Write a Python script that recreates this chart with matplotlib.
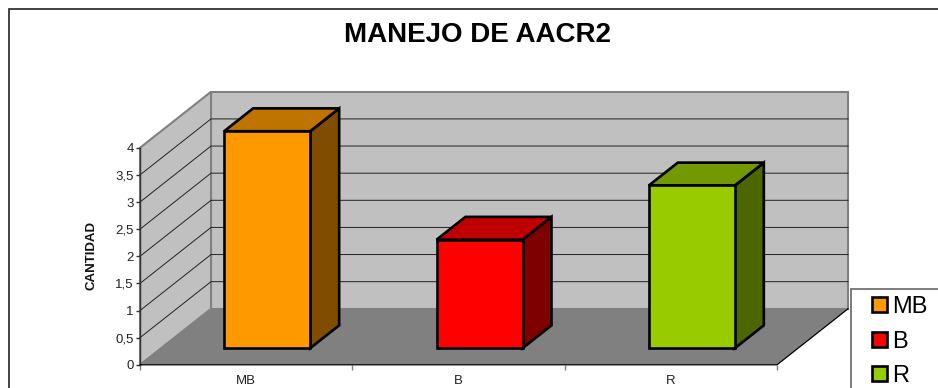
import matplotlib
matplotlib.use('Agg')
import matplotlib.pyplot as plt
from matplotlib.patches import Polygon, Rectangle

categories = ['MB', 'B', 'R']
values = [4, 2, 3]
y_ticks = [0, 0.5, 1, 1.5, 2, 2.5, 3, 3.5, 4]
y_tick_labels = ['0', '0,5', '1', '1,5', '2', '2,5', '3', '3,5', '4']
front_colors = ['#ff9900', '#ff0000', '#99cc00']
top_colors = ['#bf7300', '#bf0000', '#739900']
side_colors = ['#7f4c00', '#7f0000', '#4c6600']

W, H = 938, 388
# oblique projection: depth 1 moves this far in data units
DEPTH_X = 71 / 212.33
DEPTH_Y = 56 / 54.25
YMAX = 4

plt.rcParams['font.family'] = ['Liberation Sans', 'DejaVu Sans']


def proj(x, y, d):
    return (x + d * DEPTH_X, y + d * DEPTH_Y)


fig = plt.figure(figsize=(W / 100, H / 100), dpi=100)
ax = fig.add_axes([140 / W, (H - 364.8) / H, 637 / W, 217 / H])
ax.set_xlim(0, len(categories))
ax.set_ylim(0, YMAX)
ax.patch.set_visible(False)
for s in ['top', 'right', 'bottom', 'left']:
    ax.spines[s].set_visible(False)

n = len(categories)

# walls and floor
ax.add_patch(Polygon([proj(0, 0, 1), proj(n, 0, 1), proj(n, YMAX, 1), proj(0, YMAX, 1)],
                     fc='#c0c0c0', ec='#808080', lw=1.5, clip_on=False, zorder=1))
ax.add_patch(Polygon([proj(0, 0, 0), proj(0, 0, 1), proj(0, YMAX, 1), proj(0, YMAX, 0)],
                     fc='#c0c0c0', ec='#808080', lw=1.5, clip_on=False, zorder=1))
ax.add_patch(Polygon([proj(0, 0, 0), proj(n, 0, 0), proj(n, 0, 1), proj(0, 0, 1)],
                     fc='#808080', ec='none', clip_on=False, zorder=2))

# gridlines
for v in y_ticks[1:-1]:
    xs, ys = zip(proj(0, v, 0), proj(0, v, 1), proj(n, v, 1))
    ax.plot(xs, ys, color='#222222', lw=0.7, clip_on=False, zorder=3)

# axis lines
ax.plot([0, 0], [0, YMAX], color='#333333', lw=1.0, clip_on=False, zorder=4)
xs, ys = zip(proj(0, 0, 0), proj(n, 0, 0), proj(n, 0, 1))
ax.plot(xs, ys, color='black', lw=0.9, clip_on=False, zorder=4)

# bars
bar_w = 0.405
d0, d1 = 0.296, 0.704
handles = []
for i, (cat, val) in enumerate(zip(categories, values)):
    x0 = i + (1 - bar_w) / 2
    x1 = x0 + bar_w
    kw = dict(ec='black', lw=1.9, joinstyle='miter', clip_on=False, zorder=5)
    ax.add_patch(Polygon([proj(x1, 0, d0), proj(x1, 0, d1), proj(x1, val, d1), proj(x1, val, d0)],
                         fc=side_colors[i], **kw))
    ax.add_patch(Polygon([proj(x0, val, d0), proj(x1, val, d0), proj(x1, val, d1), proj(x0, val, d1)],
                         fc=top_colors[i], **kw))
    ax.add_patch(Polygon([proj(x0, 0, d0), proj(x1, 0, d0), proj(x1, val, d0), proj(x0, val, d0)],
                         fc=front_colors[i], **kw))
    handles.append(Rectangle((0, 0), 1, 1, fc=front_colors[i], ec='black', lw=1.9, label=cat))

# ticks
ax.set_yticks(y_ticks)
ax.set_yticklabels(y_tick_labels, fontsize=9.5, color='#222222')
ax.tick_params(axis='y', length=3, width=1, pad=1.5, color='#333333')
ax.set_xticks(range(n + 1))
ax.set_xticklabels([])
ax.set_xticks([i + 0.5 for i in range(n)], minor=True)
ax.set_xticklabels(categories, minor=True, fontsize=9.5, color='#222222')
ax.tick_params(axis='x', which='major', length=3.5, width=1, color='#808080')
ax.tick_params(axis='x', which='minor', length=0, pad=7)

fig.text(91 / W, 1 - 256 / H, 'CANTIDAD', rotation=90, fontsize=9.5, fontweight='bold',
         ha='center', va='center', color='#111111')
fig.text(477 / W, 1 - 35 / H, 'MANEJO DE AACR2', fontsize=20, fontweight='bold',
         ha='center', va='center', color='black')

# outer frame, runs off the right and bottom of the picture
fig.add_artist(Rectangle((9 / W, -0.1), 1.1, 1 - 8.5 / H + 0.1, transform=fig.transFigure,
                         fc='none', ec='#222222', lw=1.2, zorder=0))

# legend box also runs off the picture
fig.add_artist(Rectangle((851 / W, -0.1), 0.2, 1 - 289 / H + 0.1, transform=fig.transFigure,
                         fc='white', ec='#666666', lw=1.2, zorder=6))
leg = fig.legend(handles=handles, loc='upper left', bbox_to_anchor=(872 / W, 1 - 296 / H),
                 fontsize=17, frameon=False, borderpad=0, borderaxespad=0, handlelength=0.62,
                 handleheight=0.62, handletextpad=0.25, labelspacing=0.53)
leg.set_zorder(7)

fig.savefig('out.png', dpi=100)
